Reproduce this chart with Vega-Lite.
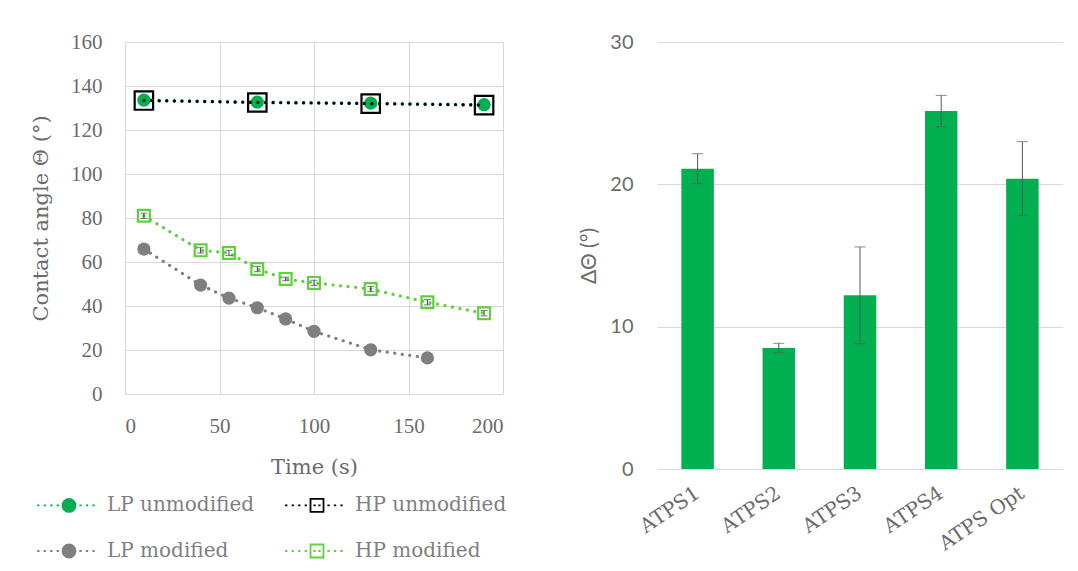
{
  "$schema": "https://vega.github.io/schema/vega-lite/v6.json",
  "background": "white",
  "padding": {"left": 26, "top": 31, "right": 0, "bottom": 0},
  "bounds": "flush",
  "config": {
    "concat": {"spacing": 154},
    "view": {"stroke": null},
    "axis": {"gridColor": "#d9d9d9", "gridWidth": 1, "domain": false, "ticks": false, "labelColor": "#6b6b6b", "titleColor": "#6b6b6b", "titleFontWeight": "normal"}
  },
  "hconcat": [
    {
      "width": 378,
      "height": 352,
      "data": {"values": [
        {"series": "LP unmodified", "t": 10, "v": 133.6, "e": 0},
        {"series": "LP unmodified", "t": 70, "v": 132.7, "e": 0},
        {"series": "LP unmodified", "t": 130, "v": 132.2, "e": 0},
        {"series": "LP unmodified", "t": 190, "v": 131.5, "e": 0},
        {"series": "HP unmodified", "t": 10, "v": 133.4, "e": 0},
        {"series": "HP unmodified", "t": 70, "v": 132.5, "e": 0},
        {"series": "HP unmodified", "t": 130, "v": 132.0, "e": 0},
        {"series": "HP unmodified", "t": 190, "v": 131.3, "e": 0},
        {"series": "LP modified", "t": 10, "v": 65.9, "e": 0},
        {"series": "LP modified", "t": 40, "v": 49.5, "e": 0},
        {"series": "LP modified", "t": 55, "v": 43.6, "e": 0},
        {"series": "LP modified", "t": 70, "v": 39.2, "e": 0},
        {"series": "LP modified", "t": 85, "v": 34.1, "e": 0},
        {"series": "LP modified", "t": 100, "v": 28.5, "e": 0},
        {"series": "LP modified", "t": 130, "v": 20.1, "e": 0},
        {"series": "LP modified", "t": 160, "v": 16.4, "e": 0},
        {"series": "HP modified", "t": 10, "v": 81.0, "e": 1.2},
        {"series": "HP modified", "t": 40, "v": 65.3, "e": 1.2},
        {"series": "HP modified", "t": 55, "v": 64.1, "e": 1.2},
        {"series": "HP modified", "t": 70, "v": 56.8, "e": 1.2},
        {"series": "HP modified", "t": 85, "v": 52.3, "e": 0.8},
        {"series": "HP modified", "t": 100, "v": 50.5, "e": 1.2},
        {"series": "HP modified", "t": 130, "v": 47.7, "e": 1.2},
        {"series": "HP modified", "t": 160, "v": 41.7, "e": 1.2},
        {"series": "HP modified", "t": 190, "v": 36.7, "e": 1.2}
      ]},
      "encoding": {
        "x": {"field": "t", "type": "quantitative", "scale": {"domain": [0, 200], "nice": false},
          "axis": {"values": [0, 50, 100, 150, 200], "grid": true, "title": "Time (s)", "labelFont": "Liberation Serif", "labelFontSize": 21, "labelPadding": 21, "titleFont": "DejaVu Serif", "titleFontSize": 21, "titlePadding": 20}},
        "y": {"field": "v", "type": "quantitative", "scale": {"domain": [0, 160], "nice": false},
          "axis": {"values": [0, 20, 40, 60, 80, 100, 120, 140, 160], "grid": true, "title": "Contact angle Θ (°)", "labelFont": "Liberation Serif", "labelFontSize": 21, "labelPadding": 23, "titleFont": "DejaVu Serif", "titleFontSize": 21, "titlePadding": 19}}
      },
      "layer": [
        {
          "transform": [{"filter": "datum.series === 'LP unmodified' || datum.series === 'LP modified'"}],
          "mark": {"type": "circle", "size": 175, "opacity": 1},
          "encoding": {
            "fill": {"field": "series", "type": "nominal",
              "scale": {"domain": ["LP unmodified", "LP modified"], "range": ["#00b050", "#7f7f7f"]}, "legend": null}
          }
        },
        {
          "transform": [{"filter": "datum.series === 'HP unmodified' || datum.series === 'HP modified'"}],
          "mark": {"type": "square", "filled": false, "strokeWidth": 2.2, "opacity": 1},
          "encoding": {
            "stroke": {"field": "series", "type": "nominal"},
            "size": {"field": "series", "type": "ordinal",
              "scale": {"domain": ["HP unmodified", "HP modified"], "range": [340, 140]}, "legend": null}
          }
        },
        {
          "mark": {"type": "line", "strokeDash": [0.1, 7.5], "strokeCap": "round", "strokeWidth": 3.2},
          "encoding": {
            "stroke": {"field": "series", "type": "nominal",
              "scale": {"domain": ["LP unmodified", "LP modified", "HP unmodified", "HP modified"], "range": ["#00b050", "#7f7f7f", "#000000", "#5cd13a"]},
              "legend": {
                "title": null, "orient": "none", "legendX": -99, "legendY": 453, "columns": 2, "columnPadding": 19, "rowPadding": 24, "padding": 0,
                "labelFont": "DejaVu Serif", "labelFontSize": 20, "labelColor": "#7f7f7f",
                "symbolSize": 169, "symbolStrokeWidth": 1.8, "symbolOffset": 33, "labelOffset": 28,
                "encode": {"symbols": {"update": {
                  "shape": {"signal": "(datum.value === 'LP unmodified' || datum.value === 'LP modified') ? 'M-4.9,0h0.35M-3.9,0h0.35M-2.9,0h0.35M-1.9,0h0.35M1.6,0h0.35M2.6,0h0.35M3.6,0h0.35M-1,0A1,1,0,1,1,1,0A1,1,0,1,1,-1,0Z' : 'M-4.9,0h0.35M-3.9,0h0.35M-2.9,0h0.35M-1.9,0h0.35M1.6,0h0.35M2.6,0h0.35M3.6,0h0.35M-0.55,0h0.35M0.2,0h0.35M-1,-1h2v2h-2Z'"},
                  "fill": {"signal": "datum.value === 'LP unmodified' ? '#00b050' : (datum.value === 'LP modified' ? '#7f7f7f' : 'transparent')"},
                  "strokeDash": {"value": []},
                  "opacity": {"value": 1},
                  "strokeOpacity": {"value": 1},
                  "fillOpacity": {"value": 1}
                }}}
              }},
            "detail": {"field": "series"}
          }
        },
        {
          "transform": [{"filter": "datum.e > 0"}],
          "mark": {"type": "errorbar", "ticks": {"size": 7, "color": "#404040"}, "rule": {"color": "#404040"}},
          "encoding": {"yError": {"field": "e"}}
        }
      ]
    },
    {
      "width": 406,
      "height": 427,
      "data": {"values": [
        {"name": "ATPS1", "val": 21.1, "err": 1.05},
        {"name": "ATPS2", "val": 8.5, "err": 0.33},
        {"name": "ATPS3", "val": 12.2, "err": 3.4},
        {"name": "ATPS4", "val": 25.15, "err": 1.1},
        {"name": "ATPS Opt", "val": 20.4, "err": 2.6}
      ]},
      "encoding": {
        "x": {"field": "name", "type": "nominal", "sort": null, "scale": {"paddingInner": 0.6, "paddingOuter": 0.3},
          "axis": {"title": null, "labelAngle": -34, "labelAlign": "right", "labelBaseline": "middle", "labelFont": "DejaVu Serif", "labelFontSize": 20, "labelPadding": 22, "grid": false}},
        "y": {"field": "val", "type": "quantitative", "scale": {"domain": [0, 30], "nice": false},
          "axis": {"values": [0, 10, 20, 30], "grid": true, "title": "ΔΘ (°)", "labelFont": "Lato", "labelFontSize": 20, "labelPadding": 24, "titleFont": "Lato", "titleFontSize": 21, "titlePadding": 10}}
      },
      "layer": [
        {"mark": {"type": "bar", "color": "#00b050"}},
        {"mark": {"type": "errorbar", "ticks": {"size": 11, "color": "#595959"}, "rule": {"color": "#595959"}},
          "encoding": {"yError": {"field": "err"}}}
      ]
    }
  ]
}
